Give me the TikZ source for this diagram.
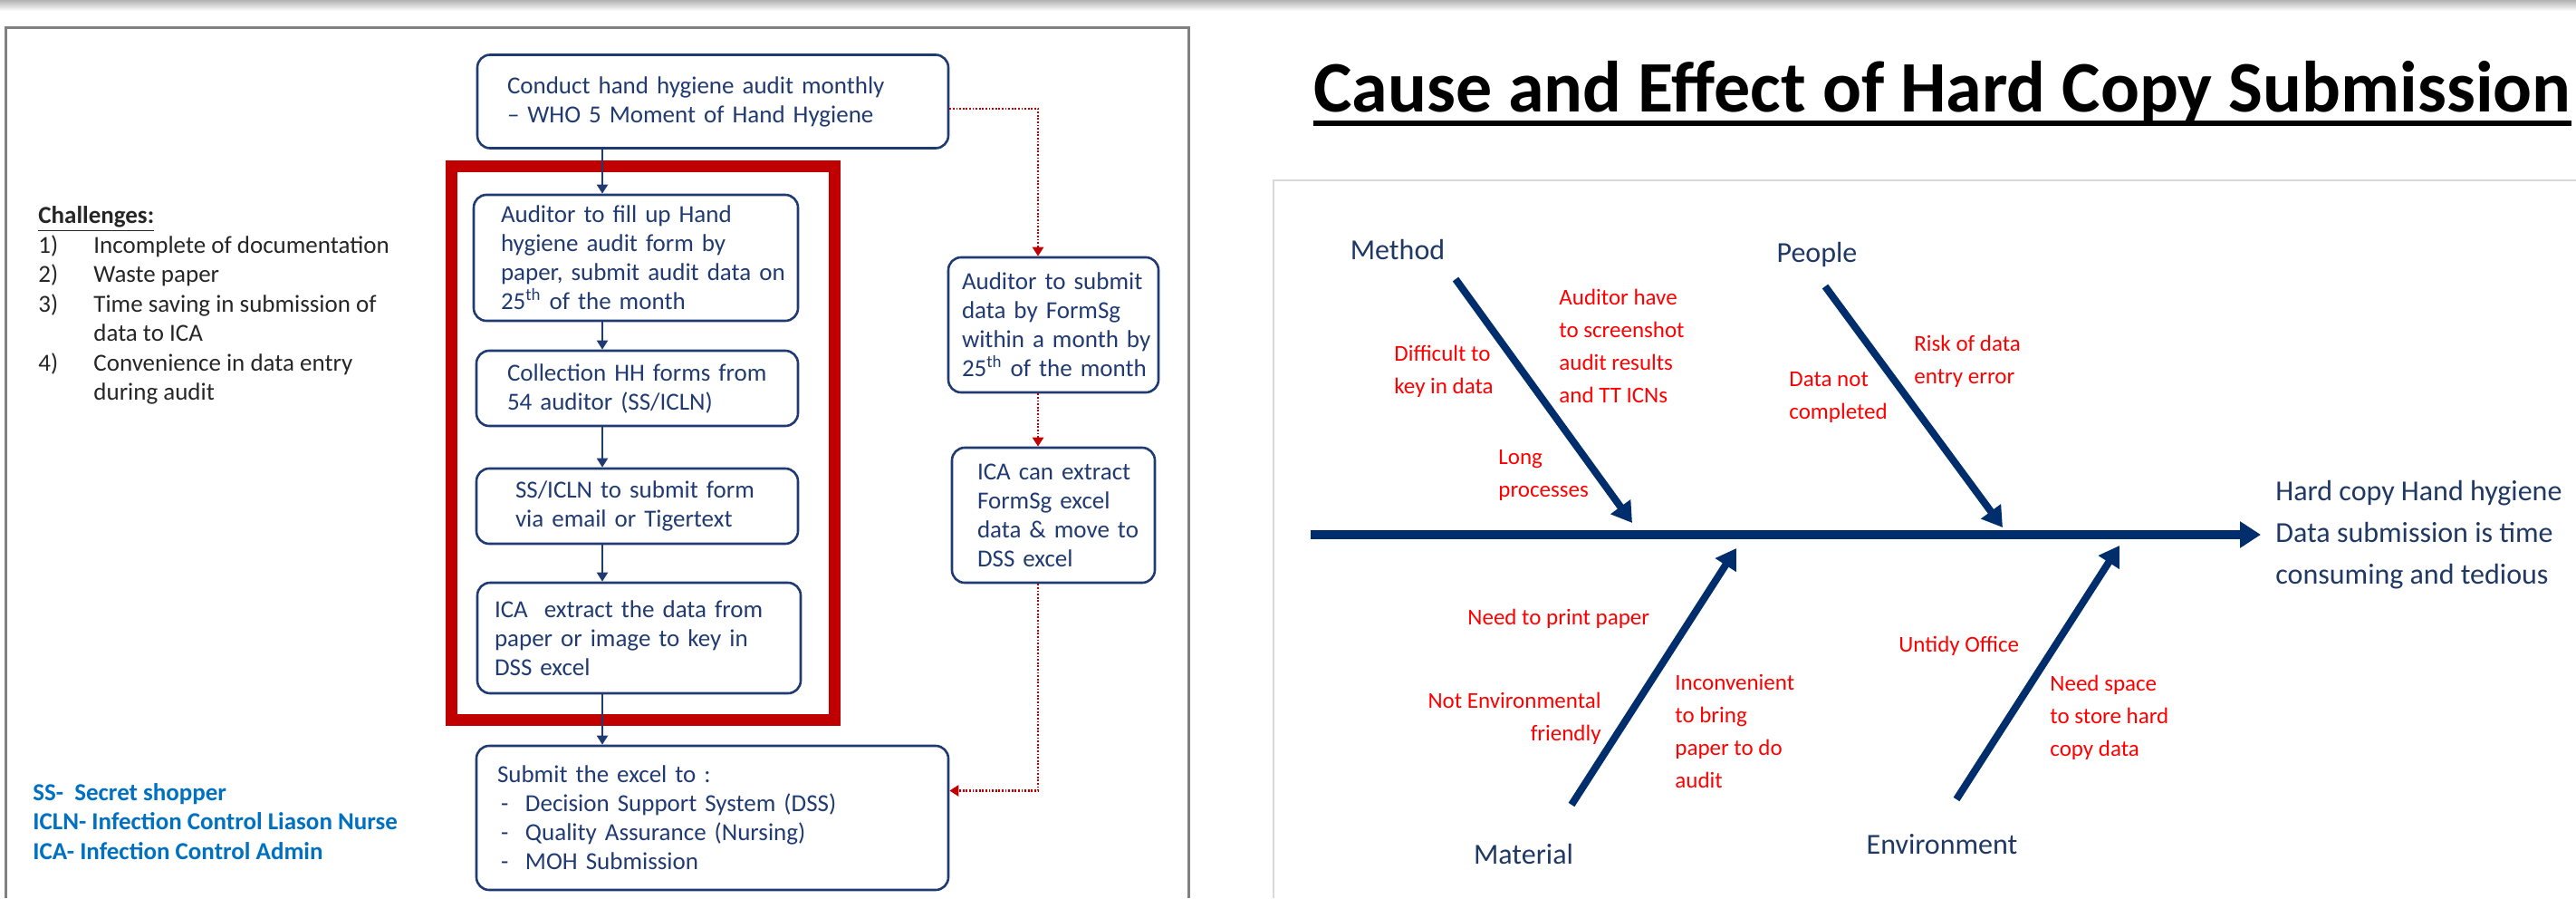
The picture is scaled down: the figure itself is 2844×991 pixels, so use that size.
\documentclass[tikz,border=0pt]{standalone}
\usepackage{fontspec}
\setmainfont{Carlito}
\usetikzlibrary{arrows.meta,positioning}

\definecolor{flowblue}{RGB}{32,58,114}
\definecolor{bonenavy}{RGB}{0,46,108}
\definecolor{labelnavy}{RGB}{31,56,100}
\definecolor{framered}{RGB}{192,0,0}
\definecolor{causered}{RGB}{255,0,0}
\definecolor{keyblue}{RGB}{0,112,192}
\definecolor{panelgray}{RGB}{128,128,128}
\definecolor{panellight}{RGB}{217,217,217}

\begin{document}
\begin{tikzpicture}[x=0.5pt,y=-0.5pt]
                        \tikzset{Box/.style={%
                                shape=rectangle,%
                                draw=flowblue,%
                                line width=1.3pt,%
                                rounded corners=7pt,%
                                text=flowblue,%
                                align=left,%
                                inner xsep=0pt,%
                                inner ysep=0pt,%
                                font=\fontsize{13.5}{16}\selectfont,%
                            },
                            pad/.style={execute at begin node={\leftskip=#1}},
                            FlowArrow/.style={draw=flowblue, line width=1pt, -{Triangle[length=5pt,width=6pt]}},
                            DotArrow/.style={draw=framered, line width=1.3pt, dash pattern=on 0.9pt off 0.9pt, -{Triangle[length=5pt,width=6pt]}},
                            Bone/.style={draw=bonenavy, line width=4pt, -{Triangle[length=11pt,width=13pt]}},
                            Spine/.style={draw=bonenavy, line width=5pt, -{Triangle[length=11.5pt,width=14pt]}},
                            Cat/.style={text=labelnavy, inner sep=0pt, font=\fontsize{16}{20}\selectfont},
                            Cause/.style={text=causered, inner sep=0pt, align=left, anchor=west, font=\fontsize{12.5}{18}\selectfont},
                        }
                        \useasboundingbox (0,0) rectangle (2844,991);
                        \shade[top color=black!30, bottom color=white] (0,0) rectangle (2844,12);

                        % left panel: flow chart
                        \draw[panelgray, line width=1.5pt] (6,991) -- (6,30) -- (1312,30) -- (1312,991);
                        \draw[framered, line width=6.5pt] (498.5,183.5) rectangle (921,794.5);

                        \node[Box, text width=260pt, pad=16.5pt, minimum height=51.5pt] (conduct) at (787,112) {Conduct hand hygiene audit monthly\\ -- WHO 5 Moment of Hand Hygiene};
                        \node[Box, text width=179pt, pad=15pt, minimum height=69.5pt] (fill) at (702,284.5) {Auditor to fill up Hand\\ hygiene audit form by\\ paper, submit audit data on\\ 25\textsuperscript{th} of the month};
                        \node[Box, text width=177.5pt, pad=17pt, minimum height=41.5pt] (collect) at (703.5,428.5) {Collection HH forms from\\ 54 auditor (SS/ICLN)};
                        \node[Box, text width=177.5pt, pad=21.5pt, minimum height=41.5pt] (send) at (703.5,558.5) {SS/ICLN to submit form\\ via email or Tigertext};
                        \node[Box, text width=178.5pt, pad=9.5pt, minimum height=61pt] (extract) at (705.5,704) {ICA\ \ extract the data from\\ paper or image to key in\\ DSS excel};
                        \node[Box, text width=260.5pt, pad=11.5pt, minimum height=79.5pt] (submit) at (786.5,902.5) {Submit the excel to :\\ \makebox[15.5pt][l]{\hspace{2pt}-}Decision Support System (DSS)\\ \makebox[15.5pt][l]{\hspace{2pt}-}Quality Assurance (Nursing)\\ \makebox[15.5pt][l]{\hspace{2pt}-}MOH Submission};
                        \node[Box, text width=116pt, pad=7.5pt, minimum height=74.5pt] (formsg) at (1163,358.5) {Auditor to submit\\ data by FormSg\\ within a month by\\ 25\textsuperscript{th} of the month};
                        \node[Box, text width=112pt, pad=14pt, minimum height=74.5pt] (move) at (1163,568.5) {ICA can extract\\ FormSg excel\\ data \& move to\\ DSS excel};

                        \coordinate (ax) at (665,0);
                        \coordinate (rx) at (1146,0);
                        \draw[FlowArrow] (conduct.south -| ax) -- (fill.north -| ax);
                        \draw[FlowArrow] (fill.south -| ax) -- (collect.north -| ax);
                        \draw[FlowArrow] (collect.south -| ax) -- (send.north -| ax);
                        \draw[FlowArrow] (send.south -| ax) -- (extract.north -| ax);
                        \draw[FlowArrow] (extract.south -| ax) -- (submit.north -| ax);
                        \draw[DotArrow] ([yshift=-4pt]conduct.east) -| (rx |- formsg.north);
                        \draw[DotArrow] (formsg.south -| rx) -- (move.north -| rx);
                        \draw[DotArrow] (move.south -| rx) |- ([yshift=15pt]submit.east);

                        \node[anchor=west, align=left, inner sep=0pt, text=black!85, font=\fontsize{13.5}{16.25}\selectfont] (challenges) at (42,337) {\underline{\textbf{Challenges:}}\\ \makebox[30.5pt][l]{1)}Incomplete of documentation\\ \makebox[30.5pt][l]{2)}Waste paper\\ \makebox[30.5pt][l]{3)}Time saving in submission of\\ \hspace*{30.5pt}data to ICA\\ \makebox[30.5pt][l]{4)}Convenience in data entry\\ \hspace*{30.5pt}during audit};
                        \node[anchor=west, align=left, inner sep=0pt, text=keyblue, font=\bfseries\fontsize{13.5}{16.25}\selectfont] (legend) at (36,906.5) {SS-\ \ Secret shopper\\ ICLN- Infection Control Liason Nurse\\ ICA- Infection Control Admin};

                        % right panel: fishbone
                        \node[anchor=base west, inner sep=0pt, font=\bfseries\fontsize{40}{48}\selectfont] (title) at (1450,123) {Cause and Effect of Hard Copy Submission};
                        \draw[line width=3pt] ([yshift=-6.5pt]title.base west) -- ([yshift=-6.5pt]title.base east);
                        \draw[panellight, line width=1.2pt] (1406,991) -- (1406,199) -- (2844,199);

                        \node[anchor=west, align=left, inner sep=0pt, text=labelnavy, font=\fontsize{16}{23}\selectfont] (effect) at (2512,590) {Hard copy Hand hygiene\\ Data submission is time\\ consuming and tedious};
                        \coordinate (tail) at (1447,590);
                        \draw[Spine] (tail) -- ([xshift=-8pt]effect.west);

                        \node[Cat] (method) at (1543,276) {Method};
                        \node[Cat] (people) at (2006,281) {People};
                        \node[Cat] (material) at (1682,942) {Material};
                        \node[Cat] (environment) at (2144,932) {Environment};

                        \coordinate (mt) at (1607,308);  \coordinate (mh) at (1802,577);
                        \coordinate (pt) at (2015,316);  \coordinate (ph) at (2211,582);
                        \coordinate (at) at (1735,888);  \coordinate (ah) at (1917,605);
                        \coordinate (et) at (2160,882);  \coordinate (eh) at (2340,602);
                        \draw[Bone] (mt) -- (mh);
                        \draw[Bone] (pt) -- (ph);
                        \draw[Bone] (at) -- (ah);
                        \draw[Bone] (et) -- (eh);

                        \node[Cause] (difficult) at (1539,409.5) {Difficult to\\ key in data};
                        \node[Cause] (screenshot) at (1721,382) {Auditor have\\ to screenshot\\ audit results\\ and TT ICNs};
                        \node[Cause] (long) at (1654,524.5) {Long\\ processes};
                        \node[Cause] (notdone) at (1975,438) {Data not\\ completed};
                        \node[Cause] (risk) at (2113,398.5) {Risk of data\\ entry error};
                        \node[Cause] (print) at (1620,683) {Need to print paper};
                        \node[Cause, align=right, anchor=east] (notenv) at (1768,792.5) {Not Environmental\\ friendly};
                        \node[Cause] (bring) at (1849,807) {Inconvenient\\ to bring\\ paper to do\\ audit};
                        \node[Cause] (untidy) at (2096,713) {Untidy Office};
                        \node[Cause] (space) at (2263,792) {Need space\\ to store hard\\ copy data};
                    \end{tikzpicture}
\end{document}
